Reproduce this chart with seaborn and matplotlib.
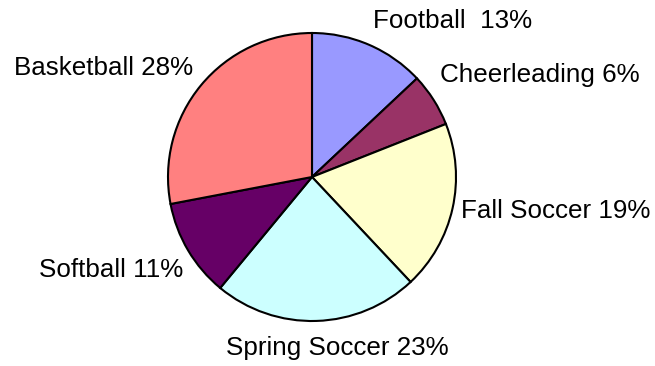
import matplotlib
matplotlib.use("Agg")
import matplotlib.pyplot as plt
import seaborn as sns

categories = ["Football", "Cheerleading", "Fall Soccer", "Spring Soccer", "Softball", "Basketball"]
values = [13, 6, 19, 23, 11, 28]
label_texts = ["Football  13%", "Cheerleading 6%", "Fall Soccer 19%",
               "Spring Soccer 23%", "Softball 11%", "Basketball 28%"]
colors = ["#9999FF", "#993366", "#FFFFCC", "#CCFFFF", "#660066", "#FF8080"]

# label anchor positions (in pie-radius units, baseline) and alignment
label_pos = [(0.424, 1.035), (0.889, 0.66), (1.035, -0.285),
             (0.177, -1.236), (-0.896, -0.694), (-0.826, 0.708)]
label_ha = ["left", "left", "left", "center", "right", "right"]

sns.set_theme(style="white")
plt.rcParams['font.family'] = ['Liberation Sans', 'DejaVu Sans']

W, H, dpi = 655, 366, 100
cx, cy, r = 312, 177, 144
fig = plt.figure(figsize=(W / dpi, H / dpi), dpi=dpi)
ax = fig.add_axes([0, 0, 1, 1])
ax.pie(values, colors=colors, startangle=90, counterclock=False, radius=1,
       wedgeprops=dict(edgecolor="black", linewidth=1.5))
ax.set_xlim(-cx / r, (W - cx) / r)
ax.set_ylim(-(H - cy) / r, cy / r)
ax.set_aspect("auto")
ax.axis("off")

for txt, (x, y), ha in zip(label_texts, label_pos, label_ha):
    ax.text(x, y, txt, ha=ha, va="baseline", fontsize=18.7, color="black")

fig.savefig("out.png", dpi=dpi, facecolor="white")
